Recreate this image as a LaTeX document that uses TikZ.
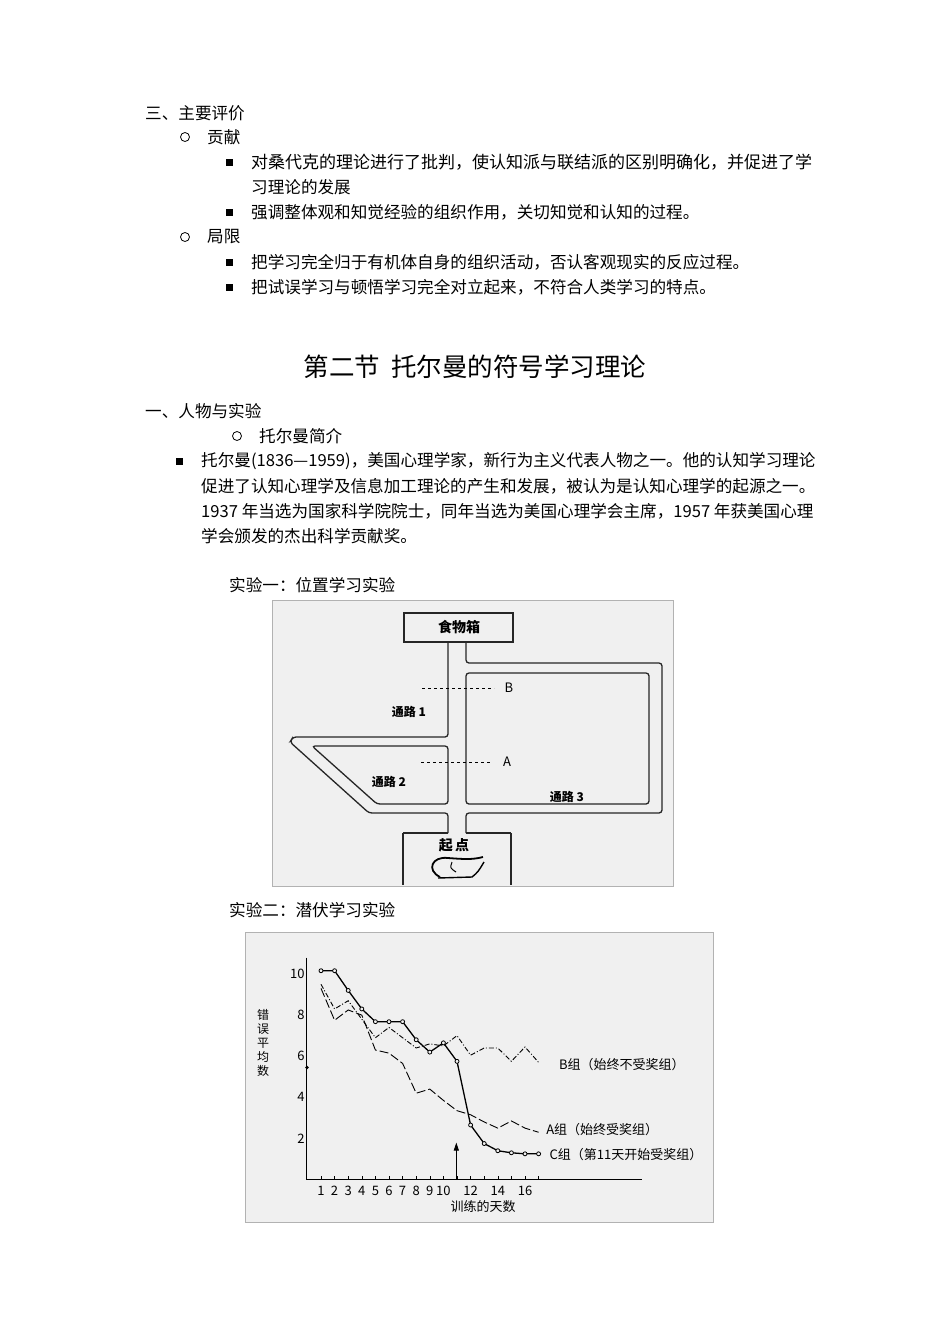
\documentclass[tikz,border=0pt]{standalone}
\usepackage{fontspec}
\setmainfont{Noto Sans CJK SC}
\usetikzlibrary{arrows.meta}
\tikzset{
  txt/.style={anchor=west,inner sep=0pt,font=\fontsize{16.6}{18}\selectfont},
  lbl/.style={inner sep=0pt,font=\fontsize{13}{15}\selectfont},
  wall/.style={line width=1.3pt,black!85,rounded corners=3pt},
  frame/.style={draw=black!30,fill=black!6,line width=0.8pt},
  ring/.style={draw,line width=0.8pt},
  sq/.style={fill,minimum size=7pt,inner sep=0pt}
}
\begin{document}
\begin{tikzpicture}[x=1pt,y=-1pt]
\useasboundingbox (0,0) rectangle (950,1344);
% evaluation
\node[txt] (h1) at (145,113) {三、主要评价};
\draw[ring] (185,137) circle (4.5);
\node[txt] (g1) at (207,137) {贡献};
\node[sq] (s1) at (229,162) {};
\node[txt,font=\fontsize{17}{18}\selectfont] (t1) at (251,162) {对桑代克的理论进行了批判，使认知派与联结派的区别明确化，并促进了学};
\node[txt] (t1b) at (251,187) {习理论的发展};
\node[sq] (s2) at (229,212) {};
\node[txt] (t2) at (251,212) {强调整体观和知觉经验的组织作用，关切知觉和认知的过程。};
\draw[ring] (185,237) circle (4.5);
\node[txt] (g2) at (207,237) {局限};
\node[sq] (s3) at (229,262) {};
\node[txt] (t3) at (251,262) {把学习完全归于有机体自身的组织活动，否认客观现实的反应过程。};
\node[sq] (s4) at (229,287) {};
\node[txt] (t4) at (251,287) {把试误学习与顿悟学习完全对立起来，不符合人类学习的特点。};
% section title
\node[inner sep=0pt,font=\fontsize{25.5}{28}\selectfont] (title) at (475,367) {第二节\ \ 托尔曼的符号学习理论};
\node[txt] (h2) at (145,411) {一、人物与实验};
\draw[ring] (237,436) circle (4.5);
\node[txt] (g3) at (259,436) {托尔曼简介};
\node[sq] (s5) at (179,461) {};
\node[txt] (p1) at (201,461) {托尔曼(1836—1959)，美国心理学家，新行为主义代表人物之一。他的认知学习理论};
\node[txt] (p2) at (201,486) {促进了认知心理学及信息加工理论的产生和发展，被认为是认知心理学的起源之一。};
\node[txt] (p3) at (201,511) {1937 年当选为国家科学院院士，同年当选为美国心理学会主席，1957 年获美国心理};
\node[txt] (p4) at (201,536) {学会颁发的杰出科学贡献奖。};
\node[txt] (e1) at (229,585) {实验一：位置学习实验};
\node[txt] (e2) at (229,910) {实验二：潜伏学习实验};
% maze
\draw[frame] (272,600) rectangle (673,886);
\draw[wall,rounded corners=0pt] (404,613) rectangle (513,642);
\node[lbl,font=\fontsize{14}{16}\selectfont\bfseries] (food) at (459,627) {食物箱};
\draw[wall,rounded corners=0pt] (403,833) -- (403,885) (511,833) -- (511,885) (403,833) -- (448,833) (466,833) -- (511,833);
\node[lbl,font=\fontsize{14}{16}\selectfont\bfseries] (start) at (454,845) {起\,点};
\draw[wall] (448,642) -- (448,737) -- (293,737) -- (290,742) -- (369,813) -- (448,813) -- (448,833);
\draw[wall] (448,746) -- (312,746) -- (377,804) -- (448,804) -- cycle;
\draw[wall] (466,642) -- (466,663) -- (662,663) -- (662,813) -- (466,813) -- (466,833);
\draw[wall] (466,673) -- (649,673) -- (649,804) -- (466,804) -- cycle;
\draw[line width=1pt,dashed] (422,688) -- (494,688);
\node[lbl] (B) at (509,688) {B};
\draw[line width=1pt,dashed] (421,762) -- (492,762);
\node[lbl] (A) at (507,762) {A};
\node[lbl,font=\fontsize{12}{14}\selectfont\bfseries] (r1) at (409,712) {通路 1};
\node[lbl,font=\fontsize{12}{14}\selectfont\bfseries] (r2) at (389,782) {通路 2};
\node[lbl,font=\fontsize{12}{14}\selectfont\bfseries] (r3) at (567,797) {通路 3};
% rat
\draw[line width=1.8pt] (440,877) .. controls (426,870) and (432,856) .. (448,858) .. controls (462,859) and (472,860) .. (483,857);
\draw[line width=1.4pt] (438,878) -- (472,877) .. controls (478,872) .. (484,862);
\draw[line width=1pt] (452,862) .. controls (450,868) .. (456,872);
% latent learning chart
\draw[frame] (245,932) rectangle (713,1222);
\begin{scope}[shift={(321,1179.5)},x=13.6pt,y=20.55pt]
  \draw[line width=1pt] (-1.03,10.8) -- (-1.03,0) -- (23.6,0);
  \foreach \v in {2,4,6,8,10}
    \node[lbl,anchor=east] (y\v) at (-1.2,\v) {\v};
  \foreach \d in {1,...,10,12,14,16}
    \node[lbl] (x\d) at (\d-1,-0.55) {\d};
  \foreach \d in {1,...,17}
    \draw[line width=0.6pt] (\d-1,0) -- (\d-1,0.15);
  \fill (-1.03,5.45) circle (1.8pt);
  \draw[line width=0.9pt,dash pattern=on 5pt off 2pt on 1pt off 2pt] plot coordinates {(0,9.5) (1,8.3) (2,8.7) (3,7.8) (4,6.9) (5,7.4) (6,6.9) (7,6.4) (8,6.6) (9,6.5) (10,7.0) (11,6.05) (12,6.4) (13,6.4) (14,5.75) (15,6.45) (16,5.7)};
  \draw[line width=0.9pt,dash pattern=on 9pt off 3pt] plot coordinates {(0,9.3) (1,7.75) (2,8.25) (3,8.0) (4,6.3) (5,6.15) (6,5.65) (7,4.2) (8,4.4) (9,3.85) (10,3.35) (11,3.15) (12,2.8) (13,2.5) (14,2.85) (15,2.5) (16,2.3)};
  \draw[line width=1.3pt] plot coordinates {(0,10.16) (1,10.16) (2,9.2) (3,8.3) (4,7.68) (5,7.68) (6,7.68) (7,6.8) (8,6.2) (9,6.65) (10,5.75) (11,2.65) (12,1.75) (13,1.4) (14,1.3) (15,1.25) (16,1.25)};
  \foreach \d/\v in {0/10.16,1/10.16,2/9.2,3/8.3,4/7.68,5/7.68,6/7.68,7/6.8,8/6.2,9/6.65,10/5.75,11/2.65,12/1.75,13/1.4,14/1.3,15/1.25,16/1.25}
    \draw[line width=0.8pt,fill=black!6] (\d,\v) circle (2pt);
  \coordinate (ar) at (9.95,0);
  \coordinate (at) at (9.95,1.8);
  \draw[-{Triangle[length=8pt,width=5pt]},line width=1pt] (ar) -- (at);
  \node[lbl,anchor=west] (lb) at (17.5,5.6) {B组（始终不受奖组）};
  \node[lbl,anchor=west] (la) at (16.55,2.45) {A组（始终受奖组）};
  \node[lbl,anchor=west] (lc) at (16.8,1.2) {C组（第11天开始受奖组）};
\end{scope}
\node[lbl,align=center,font=\fontsize{12}{14}\selectfont] (ylab) at (263,1043) {错\\误\\平\\均\\数};
\node[lbl] (xlab) at (483,1207) {训练的天数};
\end{tikzpicture}
\end{document}
